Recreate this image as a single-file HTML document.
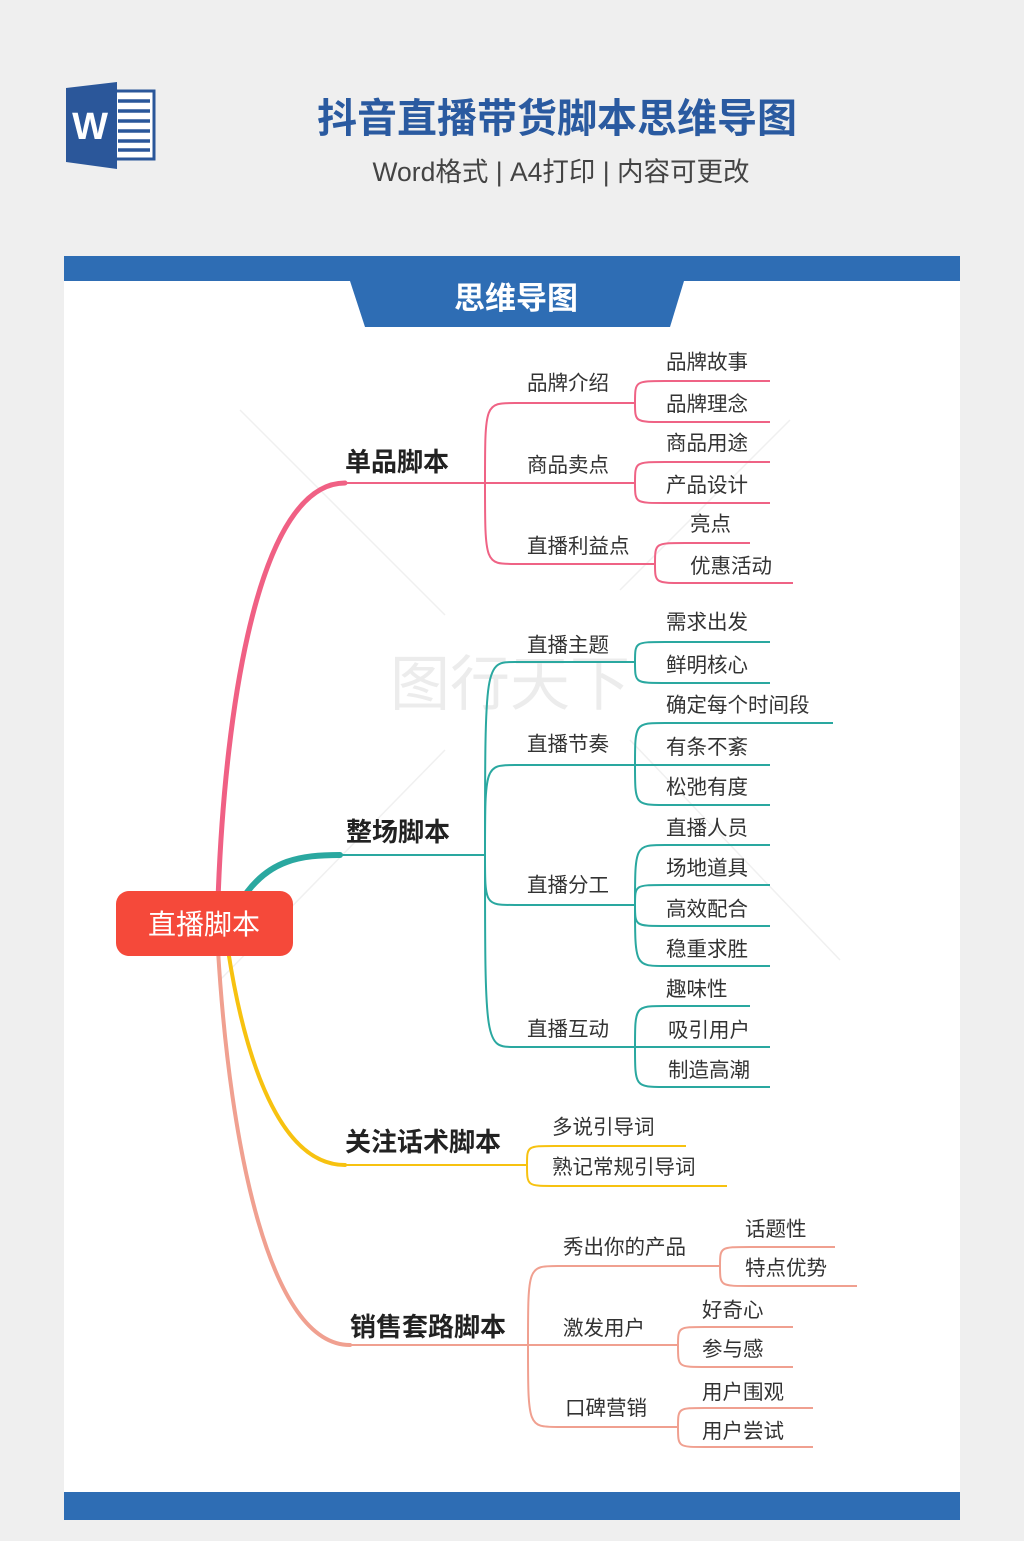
<!DOCTYPE html>
<html><head><meta charset="utf-8"><style>
html,body{margin:0;padding:0;background:#efefef;}
body{width:1024px;height:1536px;position:relative;overflow:hidden;font-family:"Liberation Sans","Noto Sans CJK SC",sans-serif;}
svg text{font-family:"Liberation Sans","Noto Sans CJK SC",sans-serif;}
</style></head><body>
<svg width="1024" height="1536" viewBox="0 0 1024 1536" xmlns="http://www.w3.org/2000/svg">
<rect width="1024" height="1536" fill="#efefef"/>
<rect x="110" y="91" width="44" height="68" fill="#fff" stroke="#2b579a" stroke-width="3"/>
<g stroke="#2b579a" stroke-width="3.5"><line x1="118" y1="101" x2="150" y2="101"/><line x1="118" y1="111" x2="150" y2="111"/><line x1="118" y1="121" x2="150" y2="121"/><line x1="118" y1="131" x2="150" y2="131"/><line x1="118" y1="141" x2="150" y2="141"/><line x1="118" y1="150" x2="150" y2="150"/></g>
<polygon points="66,88 117,82 117,169 66,162" fill="#2b579a"/>
<text x="90" y="139" font-size="38" font-weight="bold" fill="#fff" text-anchor="middle">W</text>
<text x="557" y="132" font-size="40" font-weight="bold" fill="#2a5aa0" text-anchor="middle">抖音直播带货脚本思维导图</text>
<text x="561" y="181" font-size="26.5" fill="#444" text-anchor="middle">Word格式 | A4打印 | 内容可更改</text>
<rect x="64" y="256" width="896" height="1264" fill="#fff"/>
<rect x="64" y="256" width="896" height="25" fill="#2e6db4"/>
<polygon points="350,281 684,281 670,327 365,327" fill="#2e6db4"/>
<text x="516" y="309" font-size="31" font-weight="bold" fill="#fff" text-anchor="middle">思维导图</text>
<rect x="64" y="1492" width="896" height="28" fill="#2e6db4"/>
<g stroke="#f0f0f0" stroke-width="1.5"><line x1="240" y1="410" x2="445" y2="615"/><line x1="445" y1="750" x2="220" y2="980"/><line x1="790" y1="420" x2="620" y2="590"/><line x1="630" y1="740" x2="840" y2="960"/></g>
<text x="510" y="705" font-size="60" fill="#ececec" text-anchor="middle" font-family="Noto Serif CJK SC,serif">图行天下</text>
<g fill="none" stroke-linecap="round">
<path d="M218,900 C225,700 260,483 345,483" stroke="#f06084" stroke-width="5"/>
<path d="M245,895 C270,860 300,855 340,855" stroke="#2aa8a0" stroke-width="6"/>
<path d="M228,950 C245,1060 280,1165 345,1165" stroke="#f7c210" stroke-width="4"/>
<path d="M218,950 C230,1150 270,1345 350,1345" stroke="#f0a090" stroke-width="4"/>
</g>
<g fill="none" stroke-width="2">
<g stroke="#ef6385">
<line x1="340" y1="483" x2="485" y2="483"/>
<path d="M485,483 C485,403 485,403 515,403 H635"/><path d="M485,483 H635"/><path d="M485,483 C485,564 485,564 515,564 H655"/>
<path d="M635,403 C635,381 635,381 665,381 H770"/><path d="M635,403 C635,422 635,422 665,422 H770"/>
<path d="M635,483 C635,462 635,462 665,462 H770"/><path d="M635,483 C635,503 635,503 665,503 H770"/>
<path d="M655,564 C655,543 655,543 685,543 H750"/><path d="M655,564 C655,583 655,583 685,583 H793"/>
</g>
<g stroke="#2aa8a0">
<line x1="340" y1="855" x2="485" y2="855"/>
<path d="M485,855 C485,662 485,662 515,662 H635"/><path d="M485,855 C485,765 485,765 515,765 H635"/>
<path d="M485,855 C485,905 485,905 515,905 H635"/><path d="M485,855 C485,1047 485,1047 515,1047 H635"/>
<path d="M635,662 C635,642 635,642 665,642 H770"/><path d="M635,662 C635,683 635,683 665,683 H770"/>
<path d="M635,765 C635,723 635,723 665,723 H833"/><path d="M635,765 H770"/><path d="M635,765 C635,805 635,805 665,805 H770"/>
<path d="M635,905 C635,845 635,845 665,845 H770"/><path d="M635,905 C635,885 635,885 665,885 H770"/><path d="M635,905 C635,926 635,926 665,926 H770"/><path d="M635,905 C635,966 635,966 665,966 H770"/>
<path d="M635,1047 C635,1006 635,1006 665,1006 H750"/><path d="M635,1047 H770"/><path d="M635,1047 C635,1087 635,1087 665,1087 H770"/>
</g>
<g stroke="#f7c210">
<line x1="345" y1="1165" x2="527" y2="1165"/>
<path d="M527,1165 C527,1146 527,1146 555,1146 H686"/><path d="M527,1165 C527,1186 527,1186 555,1186 H727"/>
</g>
<g stroke="#f0a090">
<line x1="350" y1="1345" x2="528" y2="1345"/>
<path d="M528,1345 C528,1266 528,1266 558,1266 H720"/><path d="M528,1345 H678"/><path d="M528,1345 C528,1427 528,1427 558,1427 H678"/>
<path d="M720,1266 C720,1247 720,1247 750,1247 H835"/><path d="M720,1266 C720,1286 720,1286 750,1286 H857"/>
<path d="M678,1346 C678,1327 678,1327 705,1327 H793"/><path d="M678,1346 C678,1367 678,1367 705,1367 H793"/>
<path d="M678,1427 C678,1408 678,1408 705,1408 H813"/><path d="M678,1427 C678,1447 678,1447 705,1447 H813"/>
</g>
</g>
<rect x="116" y="891" width="177" height="65" rx="13" fill="#f5493a"/>
<text x="204" y="934" font-size="28" fill="#fff" text-anchor="middle">直播脚本</text>
<g font-size="26" font-weight="bold" fill="#222">
<text x="345" y="471">单品脚本</text>
<text x="346" y="841">整场脚本</text>
<text x="345" y="1151">关注话术脚本</text>
<text x="350" y="1336">销售套路脚本</text>
</g>
<g font-size="20.5" fill="#333">
<text x="527" y="390">品牌介绍</text><text x="527" y="472">商品卖点</text><text x="527" y="553">直播利益点</text>
<text x="666" y="369">品牌故事</text><text x="666" y="411">品牌理念</text><text x="666" y="450">商品用途</text><text x="666" y="492">产品设计</text>
<text x="690" y="531">亮点</text><text x="690" y="573">优惠活动</text>
<text x="527" y="652">直播主题</text><text x="527" y="751">直播节奏</text><text x="527" y="892">直播分工</text><text x="527" y="1036">直播互动</text>
<text x="666" y="629">需求出发</text><text x="666" y="672">鲜明核心</text>
<text x="666" y="712">确定每个时间段</text><text x="666" y="754">有条不紊</text><text x="666" y="794">松弛有度</text>
<text x="666" y="835">直播人员</text><text x="666" y="875">场地道具</text><text x="666" y="916">高效配合</text><text x="666" y="956">稳重求胜</text>
<text x="666" y="996">趣味性</text><text x="668" y="1037">吸引用户</text><text x="668" y="1077">制造高潮</text>
<text x="552" y="1134">多说引导词</text><text x="552" y="1174">熟记常规引导词</text>
<text x="563" y="1254">秀出你的产品</text><text x="563" y="1335">激发用户</text><text x="565" y="1415">口碑营销</text>
<text x="745" y="1236">话题性</text><text x="745" y="1275">特点优势</text>
<text x="702" y="1317">好奇心</text><text x="702" y="1356">参与感</text>
<text x="702" y="1399">用户围观</text><text x="702" y="1438">用户尝试</text>
</g>
</svg>
</body></html>
